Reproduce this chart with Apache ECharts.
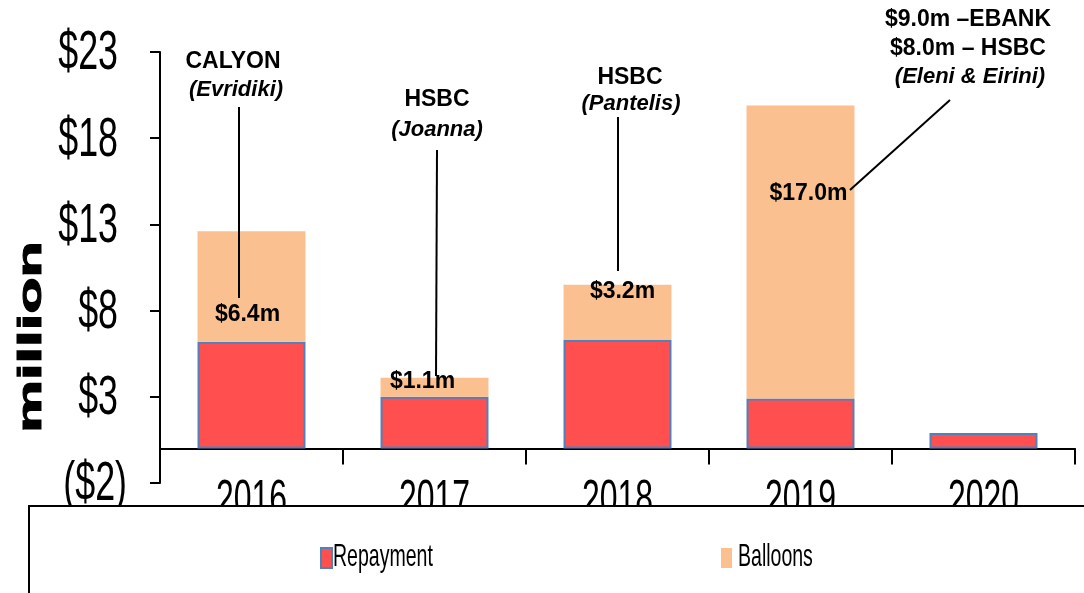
<!DOCTYPE html>
<html>
<head>
<meta charset="utf-8">
<script src="https://cdn.jsdelivr.net/npm/echarts@6/dist/echarts.min.js"></script>
<style>
html,body{margin:0;padding:0;background:#fff;}
#chart{width:1084px;height:593px;}
</style>
</head>
<body>
<div id="chart"></div>
<script>
// ---- data ----
const years = ['2016', '2017', '2018', '2019', '2020'];
const repayment = [6.2, 3.0, 6.3, 2.9, 0.9];
const balloons = [6.4, 1.1, 3.2, 17.0, 0];
const yTicks = [-2, 3, 8, 13, 18, 23];
const seriesNames = ['Repayment', 'Balloons'];
const yAxisTitle = 'million';
const lenderNotes = [
  ['CALYON', '(Evridiki)'],
  ['HSBC', '(Joanna)'],
  ['HSBC', '(Pantelis)'],
  ['$9.0m –EBANK', '$8.0m – HSBC', '(Eleni & Eirini)']
];

// ---- layout / style (not data) ----
const SANS = '"Liberation Sans", Arial, sans-serif';
const labelOffsets = [[-4, 67], [-12, -13], [5, -10], [8, 72], [0, 0]];
const fmtMoney = v => v < 0 ? '($' + Math.abs(v) + ')' : '$' + v;

const chart = echarts.init(document.getElementById('chart'), null, {renderer: 'canvas'});

function noteText(x, y, text, italic) {
  return {
    type: 'text', x: x, y: y, z: 60,
    style: {
      text: text, fill: '#000',
      font: (italic ? 'italic ' : '') + 'bold ' + (italic ? '22px ' : '23px ') + SANS,
      align: 'center', verticalAlign: 'middle'
    }
  };
}
function noteLine(x1, y1, x2, y2) {
  return {type: 'line', z: 60, shape: {x1: x1, y1: y1, x2: x2, y2: y2},
          style: {stroke: '#000', lineWidth: 2}};
}

const option = {
  backgroundColor: '#fff',
  animation: false,
  grid: {left: 160, right: 9, top: 52, bottom: 110, containLabel: false},
  legend: {
    data: seriesNames,
    left: 315, top: 542, z: 100,
    selectedMode: false,
    icon: 'rect', itemWidth: 11, itemHeight: 20, itemGap: 388,
    formatter: () => '',
    textStyle: {fontFamily: SANS, fontSize: 12, color: '#000'}
  },
  xAxis: {
    type: 'category',
    data: years,
    axisLine: {onZero: true, lineStyle: {color: '#000', width: 2}},
    axisTick: {show: true, inside: false, length: 16, lineStyle: {color: '#000', width: 2}},
    axisLabel: {show: false}
  },
  yAxis: {
    type: 'value',
    min: -2, max: 23, interval: 5,
    axisLine: {show: true, lineStyle: {color: '#000', width: 2}},
    axisTick: {show: true, inside: false, length: 10, customValues: yTicks, lineStyle: {color: '#000', width: 2}},
    axisLabel: {show: false, customValues: yTicks, formatter: fmtMoney},
    splitLine: {show: false}
  },
  series: [
    {
      name: seriesNames[0], type: 'bar', stack: 'total', barWidth: '59%',
      data: repayment,
      itemStyle: {color: '#FF4F4F', borderColor: '#4F81BD', borderWidth: 2}
    },
    {
      name: seriesNames[1], type: 'bar', stack: 'total', barWidth: '59%',
      data: balloons.map((v, i) => ({
        value: v,
        label: {offset: labelOffsets[i]}
      })),
      itemStyle: {color: '#FAC090'},
      label: {
        show: true, position: 'insideTop', distance: 5,
        fontFamily: SANS, fontWeight: 'bold', fontSize: 23, color: '#000',
        formatter: p => p.value > 0 ? '$' + p.value.toFixed(1) + 'm' : ''
      }
    }
  ]
};
chart.setOption(option);

// Condensed (Arial-Narrow-like) axis / legend labels, placed through the chart's own scales.
const graphics = [];
yTicks.forEach(v => {
  const p = chart.convertToPixel({yAxisIndex: 0}, v);
  graphics.push({
    type: 'text', x: v < 0 ? 127 : 118, y: p + 2, scaleX: 0.64, z: 40,
    style: {text: fmtMoney(v), font: '56px ' + SANS, fill: '#000', align: 'right', verticalAlign: 'middle'}
  });
});
const zeroY = chart.convertToPixel({yAxisIndex: 0}, 0);
years.forEach(y => {
  const px = chart.convertToPixel({xAxisIndex: 0}, y);
  graphics.push({
    type: 'text', x: px, y: zeroY + 53, scaleX: 0.64, z: 40,
    style: {text: y, font: '50px ' + SANS, fill: '#000', align: 'center', verticalAlign: 'middle'}
  });
});
// legend frame (also clips the year labels as in the reference)
graphics.push({type: 'rect', z: 50, shape: {x: 29, y: 506, width: 1100, height: 200},
  style: {fill: '#fff', stroke: '#000', lineWidth: 2}});
// legend names (condensed text next to the legend icons)
const legendTextX = [333, 738];
seriesNames.forEach((n, i) => {
  graphics.push({
    type: 'text', x: legendTextX[i], y: 557, scaleX: 0.61, z: 110,
    style: {text: n, font: '32px ' + SANS, fill: '#000', align: 'left', verticalAlign: 'middle'}
  });
});
// y axis title
graphics.push({type: 'text', x: 32, y: 337, rotation: Math.PI / 2, scaleX: 1.75, z: 60,
  style: {text: yAxisTitle, font: 'bold 34px ' + SANS, fill: '#000', stroke: '#000', lineWidth: 1,
          align: 'center', verticalAlign: 'middle'}});
graphics.push(
  noteText(233, 62, lenderNotes[0][0]), noteText(236, 90, lenderNotes[0][1], true),
  noteLine(239, 107, 239, 298),
  noteText(437, 100, lenderNotes[1][0]), noteText(437, 130, lenderNotes[1][1], true),
  noteLine(437, 150, 436, 376),
  noteText(630, 78, lenderNotes[2][0]), noteText(631, 104, lenderNotes[2][1], true),
  noteLine(618, 117, 618, 271),
  noteText(968, 20, lenderNotes[3][0]), noteText(968, 49, lenderNotes[3][1]), noteText(970, 77, lenderNotes[3][2], true),
  noteLine(950, 100, 850, 190)
);
chart.setOption({graphic: graphics});
</script>
</body>
</html>
